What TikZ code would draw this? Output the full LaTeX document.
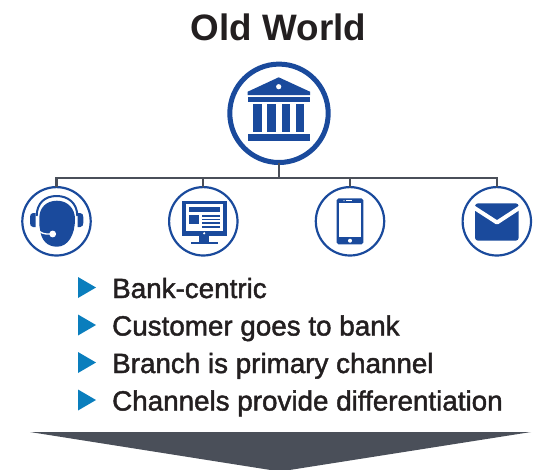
\documentclass[tikz,border=0pt]{standalone}
\usepackage{fontspec}
\setmainfont{Liberation Sans}
\newfontfamily\mediumfont[FakeBold=1.6]{Liberation Sans}
\definecolor{bankblue}{HTML}{1A4A9C}
\definecolor{bulletblue}{HTML}{0A7EBD}
\definecolor{busgray}{HTML}{4A4F59}
\definecolor{textblack}{HTML}{231F20}
\tikzset{
  bankring/.style={circle, draw=bankblue, fill=white, line width=5pt, minimum size=98.4pt, inner sep=0pt, outer sep=0pt},
  channelring/.style={circle, draw=bankblue, fill=white, line width=2.2pt, minimum size=68.4pt, inner sep=0pt, outer sep=0pt},
  busline/.style={draw=busgray, line width=2.3pt},
  bulletitem/.style={anchor=base west, inner sep=0pt, text=textblack, font=\mediumfont\fontsize{27.8}{30}\selectfont},
  bulletmark/.style={fill=bulletblue},
  iconfill/.style={fill=bankblue}
}
\begin{document}
\begin{tikzpicture}[x=1pt,y=-1pt]
\useasboundingbox (0,0) rectangle (535,469);
\node [anchor=base, inner sep=0pt, text=textblack, font=\bfseries\fontsize{36.8}{40}\selectfont] (title) at (278.5,40) {Old World};
% rings
\node [bankring] (bank) at (279,113.3) {};
\node [channelring] (agent) at (56.5,221.3) {};
\node [channelring] (desktop) at (203.3,221.3) {};
\node [channelring] (phone) at (350,221.3) {};
\node [channelring] (mail) at (496.8,221.3) {};
% bus
\coordinate (busleft) at (agent |- 0,178);
\coordinate (busright) at (mail |- 0,178);
\draw [busline, line join=miter] (agent.north) -- (busleft) -- (busright) -- (mail.north);
\draw [busline] (bank.south) -- (bank.south |- busleft);
\draw [busline] (desktop.north) -- (desktop.north |- busleft);
\draw [busline] (phone.north) -- (phone.north |- busleft);
% bank icon
\fill [iconfill] (278.7,77.3) -- (310,91.7) -- (310,95) -- (247.7,95) -- (247.7,91.7) -- cycle;
\fill [white] (278.7,86.7) circle (2.6);
\fill [iconfill] (247.7,97) rectangle (310,102);
\fill [iconfill] (253,104) rectangle (262,131.7);
\fill [iconfill] (267.3,104) rectangle (276,131.7);
\fill [iconfill] (281.7,104) rectangle (290.3,131.7);
\fill [iconfill] (296,104) rectangle (304.3,131.7);
\fill [iconfill] (247.7,134.3) rectangle (310,141.3);
% headset icon
\draw [bankblue, line width=2pt] (36.7,216) .. controls (36.7,203) and (45,196) .. (56.7,196) .. controls (68,196) and (77.3,203) .. (77.3,216);
\fill [iconfill] (35.7,213) -- (35.7,227) -- (33,227) .. controls (31,227) and (30,225) .. (30,223) -- (30,217) .. controls (30,215) and (31,213) .. (33,213) -- cycle;
\fill [iconfill] (77.7,213) -- (77.7,227) -- (80.3,227) .. controls (82.3,227) and (83.3,225) .. (83.3,223) -- (83.3,217) .. controls (83.3,215) and (82.3,213) .. (80.3,213) -- cycle;
\fill [iconfill] (57,200.7) .. controls (68,200.7) and (75,209) .. (75,219) .. controls (75,235) and (68,246.7) .. (57,246.7) .. controls (47,246.7) and (41,240) .. (40,229) .. controls (39,225) and (39.3,221) .. (39.3,218) .. controls (39.3,208) and (46,200.7) .. (57,200.7) -- cycle;
\draw [white, line width=1.3pt] (40,231.7) .. controls (43,234) and (47,234.3) .. (51.7,234);
\fill [white] (52.7,234) circle (3.4);
% desktop icon
\fill [iconfill] (181.7,200.7) rectangle (227,236);
\fill [white] (186,204) rectangle (222.7,230.7);
\fill [iconfill] (188.7,207.3) rectangle (220,211.7);
\fill [iconfill] (188.7,215) rectangle (199.3,224.3);
\fill [iconfill] (202,214.8) rectangle (220,216.5);
\fill [iconfill] (202,218.5) rectangle (220,220.2);
\fill [iconfill] (202,222.2) rectangle (220,223.9);
\fill [iconfill] (202,225.9) rectangle (220,227.6);
\fill [white] (204.2,233.3) circle (1.2);
\fill [iconfill] (199.3,236) rectangle (209.3,241.7);
\fill [iconfill] (191,241.7) rectangle (217.7,244);
% phone icon
\fill [iconfill, rounded corners=1.8pt] (336.7,198.3) rectangle (363.3,244.3);
\fill [white] (338.7,203.3) rectangle (361.3,236.7);
\fill [white] (346,200.2) rectangle (352.3,201.3);
\fill [white] (344,200.7) circle (0.6);
\fill [white] (350,240.7) circle (2);
% mail icon
\fill [iconfill, rounded corners=3pt] (475,203.3) rectangle (518.7,240.7);
\draw [white, line width=4pt, line join=round] (473,207) -- (497,222.5) -- (520.7,207);
% bullets
\fill [bulletmark] (78,277) -- (96,287.5) -- (78,298) -- cycle;
\node [bulletitem] (itema) at (112,298) {Bank-centric};
\fill [bulletmark] (78,314.5) -- (96,325) -- (78,335.5) -- cycle;
\node [bulletitem] (itemb) at (112,335.5) {Customer goes to bank};
\fill [bulletmark] (78,352) -- (96,362.5) -- (78,373) -- cycle;
\node [bulletitem] (itemc) at (112,373) {Branch is primary channel};
\fill [bulletmark] (78,389.5) -- (96,400) -- (78,410.5) -- cycle;
\node [bulletitem] (itemd) at (112,410.5) {Channels provide differentiation};
% down arrow
\begin{scope}
\clip (0,0) rectangle (535,469);
\fill [busgray] (30,432) -- (531,432) -- (280,471.5) -- cycle;
\end{scope}
\end{tikzpicture}
\end{document}
